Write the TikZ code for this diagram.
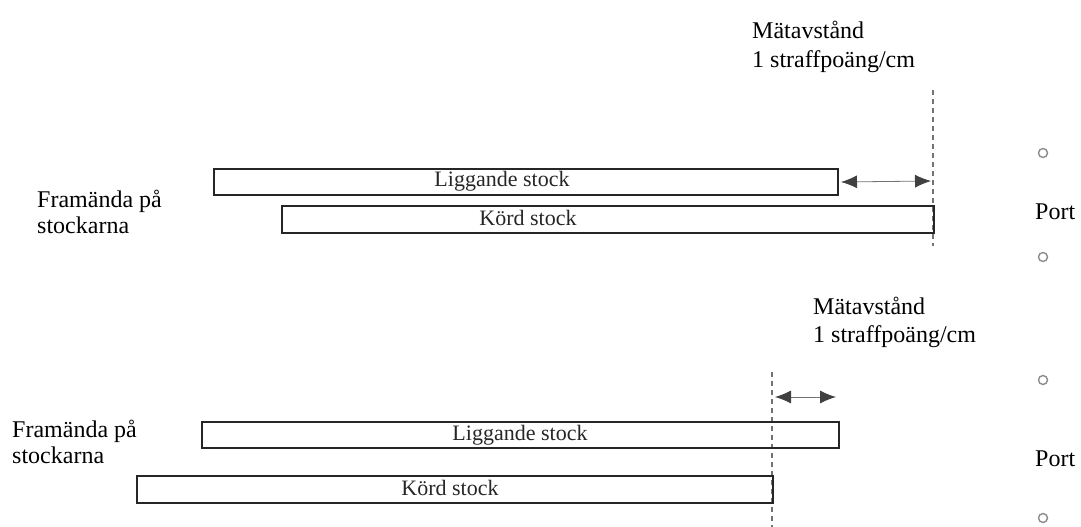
\documentclass[tikz,border=0pt]{standalone}
\usepackage{fontspec}
\setmainfont{Liberation Serif}
\usetikzlibrary{arrows.meta}
\begin{document}
\begin{tikzpicture}[x=1pt,y=-1pt,
  lbl/.style={anchor=base west,inner sep=0pt,font=\fontsize{24}{27}\selectfont},
  logbox/.style={draw=black!85,line width=2pt,rectangle,inner sep=0pt,anchor=north west},
  boxtxt/.style={anchor=base,inner sep=0pt,font=\fontsize{22}{24}\selectfont,text=black!85},
  gate/.style={circle,draw=black!45,line width=1.4pt,minimum size=9pt,inner sep=0pt},
  dimline/.style={draw=black!55,line width=0.8pt,
    {Latex[length=16pt,width=13pt,color=black!75]}-{Latex[length=16pt,width=13pt,color=black!75]}},
  meas/.style={draw=black!55,line width=1.2pt,dash pattern=on 5pt off 4pt}]
\useasboundingbox (0,0) rectangle (1081,527);
% ---------- top diagram ----------
\node[lbl] (m1) at (752,39) {Mätavstånd};
\node[lbl] (s1) at (752,67) {1 straffpoäng/cm};
\coordinate (d1a) at (933,90);
\coordinate (d1b) at (933,246);
\draw[meas] (d1a) -- (d1b);
\node[logbox,minimum width=624pt,minimum height=26pt] (lig1) at (213,168) {};
\node[logbox,minimum width=652pt,minimum height=27pt] (kor1) at (281,205) {};
\node[boxtxt] (tl1) at (502,186) {Liggande stock};
\node[boxtxt] (tk1) at (528,225) {Körd stock};
\coordinate (a1) at (931,181);
\draw[dimline] ([xshift=2pt]lig1.east) -- (a1);
\node[lbl] (f1) at (37,207) {Framända på};
\node[lbl] (f1b) at (37,233) {stockarna};
\node[gate] (g1) at (1043,153) {};
\node[gate] (g2) at (1043,257) {};
\node[lbl] (p1) at (1035,219) {Port};
% ---------- bottom diagram ----------
\node[lbl] (m2) at (813,314) {Mätavstånd};
\node[lbl] (s2) at (813,342) {1 straffpoäng/cm};
\coordinate (d2a) at (772,372);
\coordinate (d2b) at (772,527);
\draw[meas] (d2a) -- (d2b);
\node[logbox,minimum width=637pt,minimum height=26pt] (lig2) at (201,421) {};
\node[logbox,minimum width=636pt,minimum height=27pt] (kor2) at (136,475) {};
\node[boxtxt] (tl2) at (520,440) {Liggande stock};
\node[boxtxt] (tk2) at (450,495) {Körd stock};
\coordinate (a2l) at (775,397);
\coordinate (a2r) at (836,397);
\draw[dimline] (a2l) -- (a2r);
\node[lbl] (f2) at (12,437) {Framända på};
\node[lbl] (f2b) at (12,463) {stockarna};
\node[gate] (g3) at (1043,380) {};
\node[gate] (g4) at (1043,518) {};
\node[lbl] (p2) at (1035,466) {Port};
\end{tikzpicture}
\end{document}
